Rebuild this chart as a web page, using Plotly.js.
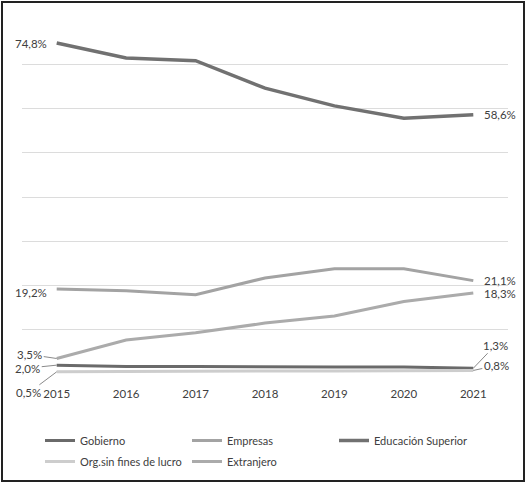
<!DOCTYPE html>
<html>
<head>
<meta charset="utf-8">
<script src="https://cdn.plot.ly/plotly-3.0.1.min.js"></script>
<style>
html,body{margin:0;padding:0;background:#fff;}
#chart{position:absolute;left:0;top:0;width:526px;height:483px;}
#frame{position:absolute;left:1px;top:1px;width:520px;height:477px;border:2px solid #222;pointer-events:none;}
#err{position:absolute;left:30px;top:200px;color:red;font:10px sans-serif;}
</style>
</head>
<body>
<div id="chart"></div>
<div id="frame"></div>
<div id="err"></div>
<script>
const years = ['2015','2016','2017','2018','2019','2020','2021'];
const gobierno = [2.0, 1.7, 1.7, 1.6, 1.6, 1.6, 1.3];
const empresas = [19.2, 18.8, 17.9, 21.7, 23.8, 23.8, 21.1];
const educacionSuperior = [74.8, 71.4, 70.8, 64.6, 60.6, 57.8, 58.6];
const orgSinFines = [0.5, 0.6, 0.6, 0.7, 0.7, 0.7, 0.8];
const extranjero = [3.5, 7.7, 9.3, 11.5, 13.1, 16.4, 18.3];

const names = ['Gobierno','Empresas','Educación Superior','Org.sin fines de lucro','Extranjero'];
const series = [gobierno, empresas, educacionSuperior, orgSinFines, extranjero];
const colors = ['#6a6a6a','#a3a3a3','#717171','#cdcdcd','#ababab'];
const widths = [3, 3, 3.5, 3, 3];
const legendOf = ['legend','legend','legend','legend2','legend2'];

const fmt = v => v.toFixed(1).replace('.', ',') + '%';

const traces = series.map((s, i) => ({
  x: years, y: s, name: names[i], type: 'scatter', mode: 'lines',
  line: {color: colors[i], width: widths[i]}, hoverinfo: 'skip', legend: legendOf[i]
}));

const FONT = 'Lato, "Open Sans", sans-serif';
const mkf = () => ({family: FONT, size: 11.5, color: '#404040'});
const last = years.length - 1;
const ann = [];
function plain(xi, s, anchor, xs, ys) {
  ann.push({x: xi, y: s[xi], xref: 'x', yref: 'y', text: fmt(s[xi]), showarrow: false,
    xanchor: anchor, xshift: xs, yshift: ys, font: mkf()});
}
function lead(xi, s, ax, ay) {
  ann.push({x: xi, y: s[xi], xref: 'x', yref: 'y', text: fmt(s[xi]), showarrow: true,
    arrowhead: 0, arrowwidth: 1, arrowcolor: '#8a8a8a', ax: ax, ay: ay, font: mkf()});
}
plain(0, educacionSuperior, 'right', -8, 0);
plain(last, educacionSuperior, 'left', 9, 0);
plain(0, empresas, 'right', -8, -3);
plain(last, empresas, 'left', 9, 0);
plain(last, extranjero, 'left', 9, 0);
lead(0, extranjero, -27, -4);
lead(0, gobierno, -29, 3);
lead(0, orgSinFines, -28, 21);
lead(last, gobierno, 22, -23);
lead(last, orgSinFines, 23, -5);

const legBase = (y) => ({orientation: 'h', xref: 'container', yref: 'container',
  x: 40 / 526, xanchor: 'left', y: y, yanchor: 'top',
  entrywidth: 102, entrywidthmode: 'pixels', traceorder: 'normal',
  bgcolor: 'rgba(0,0,0,0)', font: {family: FONT, size: 11, color: '#404040'}});

const layout = {
  width: 526, height: 483,
  margin: {l: 22, r: 18, t: 20, b: 109},
  paper_bgcolor: '#fff', plot_bgcolor: '#fff',
  showlegend: true,
  legend: legBase(1 - 426 / 483),
  legend2: legBase(1 - 447 / 483),
  xaxis: {type: 'category', showgrid: false, zeroline: false, showline: false,
    ticks: '', ticklabelstandoff: 11, automargin: false,
    tickfont: {family: FONT, size: 11.5, color: '#404040'},
    range: [-0.5, 6.5]},
  yaxis: {range: [0, 80], dtick: 10, showticklabels: false, showgrid: true, automargin: false,
    gridcolor: '#dcdcdc', gridwidth: 1, zeroline: false, showline: false, ticks: ''},
  annotations: ann
};

try {
  Plotly.newPlot('chart', traces, layout, {staticPlot: true, displayModeBar: false})
    .catch(e => { document.getElementById('err').textContent = 'P: ' + e; });
} catch (e) {
  document.getElementById('err').textContent = 'E: ' + e;
}
</script>
</body>
</html>
